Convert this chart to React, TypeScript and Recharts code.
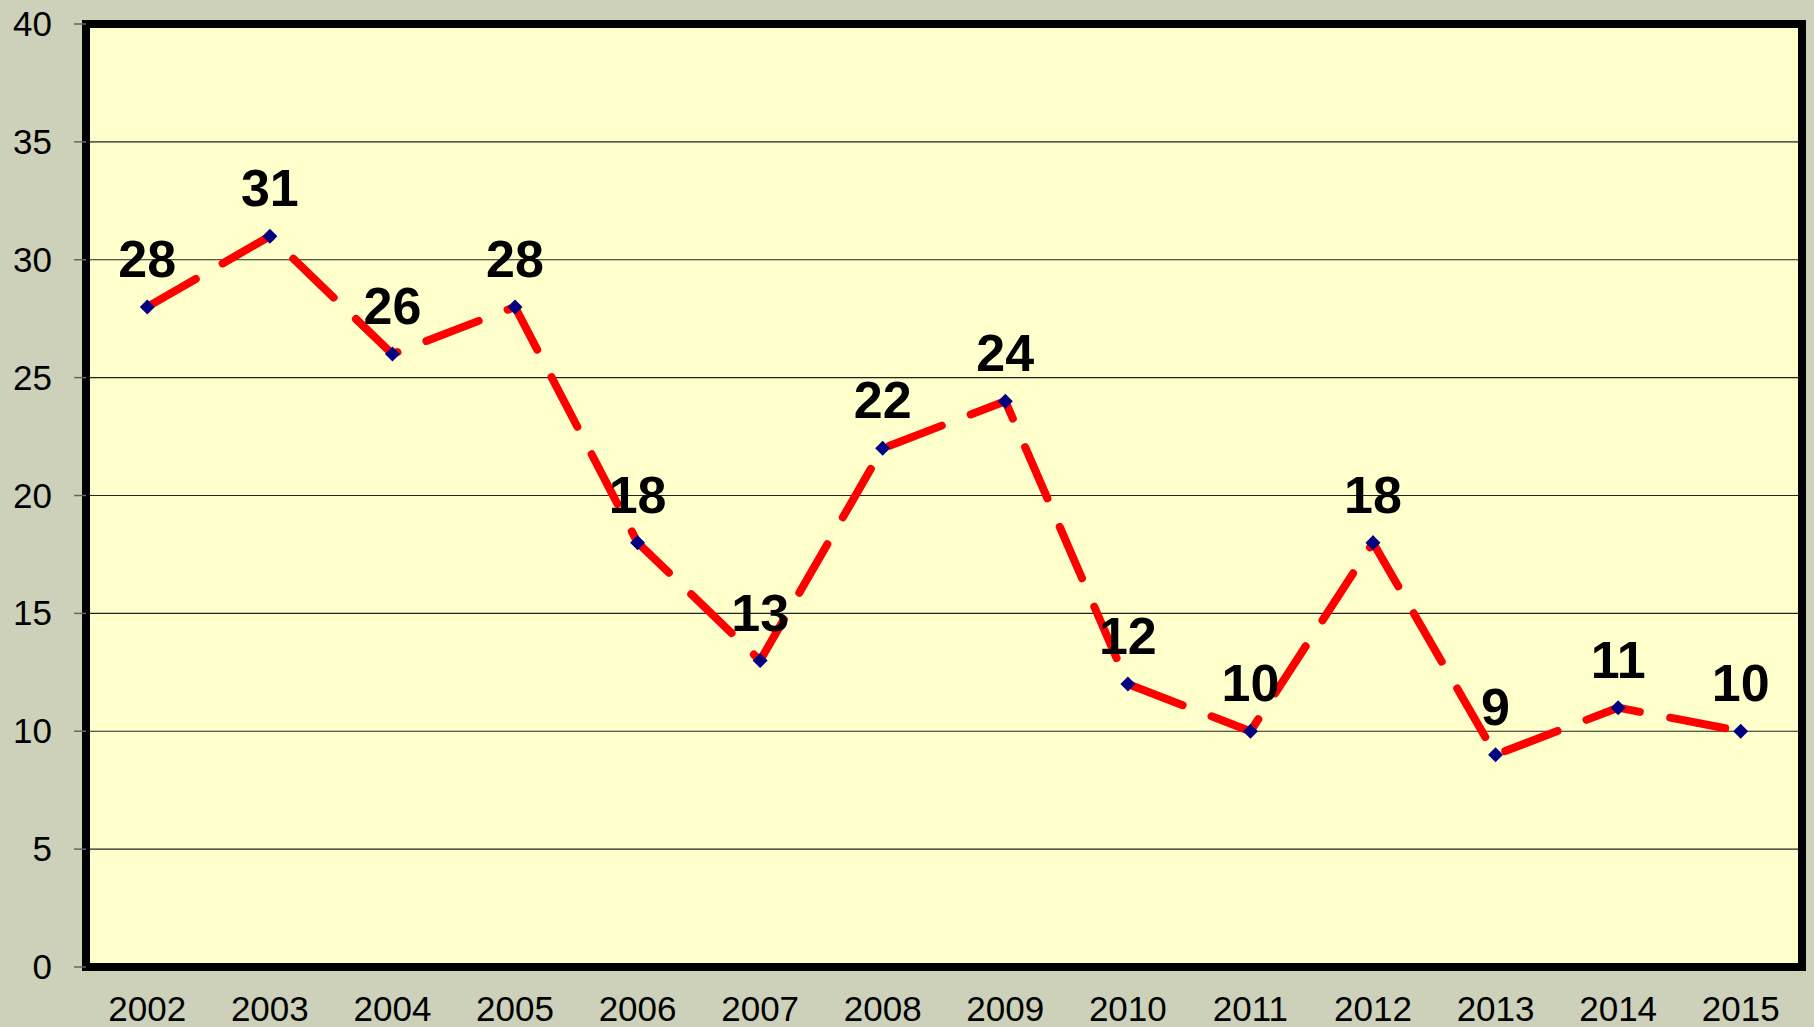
import React from 'react';
import { LineChart, Line, XAxis, YAxis, CartesianGrid, ReferenceArea } from 'recharts';

const years = ['2002', '2003', '2004', '2005', '2006', '2007', '2008', '2009', '2010', '2011', '2012', '2013', '2014', '2015'];
const values = [28, 31, 26, 28, 18, 13, 22, 24, 12, 10, 18, 9, 11, 10];
const yTicks = [0, 5, 10, 15, 20, 25, 30, 35, 40];
const boundaryTicks = [0, 1, 2, 3, 4, 5, 6, 7, 8, 9, 10, 11, 12, 13, 14];

const data = years.map((y, i) => ({ year: y, value: values[i] }));

const FONT = 'Liberation Sans, Arial, sans-serif';

const Diamond = (props: any) => {
  const { cx, cy } = props;
  if (cx == null || cy == null) return null;
  const r = 7.5;
  return (
    <polygon
      points={`${cx},${cy - r} ${cx + r},${cy} ${cx},${cy + r} ${cx - r},${cy}`}
      fill="#000080"
    />
  );
};

const renderLabel = (props: any) => {
  const { x, y, value } = props;
  return (
    <text x={x} y={y - 30} textAnchor="middle" fontFamily={FONT} fontWeight="bold" fontSize={52} fill="#000">
      {value}
    </text>
  );
};

const XTick = (props: any) => {
  const { x, y, payload } = props;
  return (
    <text x={x} y={y} dy={23} textAnchor="middle" fontFamily={FONT} fontSize={35} fill="#000">
      {payload.value}
    </text>
  );
};

const YTick = (props: any) => {
  const { x, y, payload } = props;
  return (
    <text x={x} y={y} dy={12} textAnchor="end" fontFamily={FONT} fontSize={35} fill="#000">
      {payload.value}
    </text>
  );
};

export default function App() {
  return (
    <div style={{ position: 'absolute', left: 0, top: 0, width: 1814, height: 1027, background: '#CDD1BA' }}>
      <LineChart width={1814} height={1027} data={data} margin={{ top: 24, right: 12, bottom: 0, left: 0 }}>
        <CartesianGrid vertical={false} stroke="#222" strokeWidth={1.2} fill="#FFFFCC" fillOpacity={1} />
        <XAxis
          xAxisId="ticks"
          type="number"
          domain={[0, 14]}
          ticks={boundaryTicks}
          height={0}
          tick={false}
          tickSize={10}
          tickLine={{ stroke: '#666', strokeWidth: 1.5 }}
          axisLine={false}
          allowDataOverflow
        />
        <XAxis
          dataKey="year"
          scale="band"
          height={60}
          tickLine={false}
          axisLine={false}
          tickSize={8}
          tickMargin={23}
          interval={0}
          tick={<XTick />}
        />
        <YAxis
          width={86}
          domain={[0, 40]}
          ticks={yTicks}
          interval={0}
          tickSize={12}
          tickMargin={22}
          tickLine={{ stroke: '#666', strokeWidth: 1.5 }}
          axisLine={false}
          tick={<YTick />}
        />
        <ReferenceArea y1={0} y2={40} fill="none" stroke="#000" strokeWidth={8} ifOverflow="visible" />
        <Line
          type="linear"
          dataKey="value"
          stroke="#FF0000"
          strokeWidth={8}
          strokeDasharray="56 31"
          strokeLinecap="round"
          dot={<Diamond />}
          activeDot={false}
          label={renderLabel}
          isAnimationActive={false}
        />
      </LineChart>
    </div>
  );
}
